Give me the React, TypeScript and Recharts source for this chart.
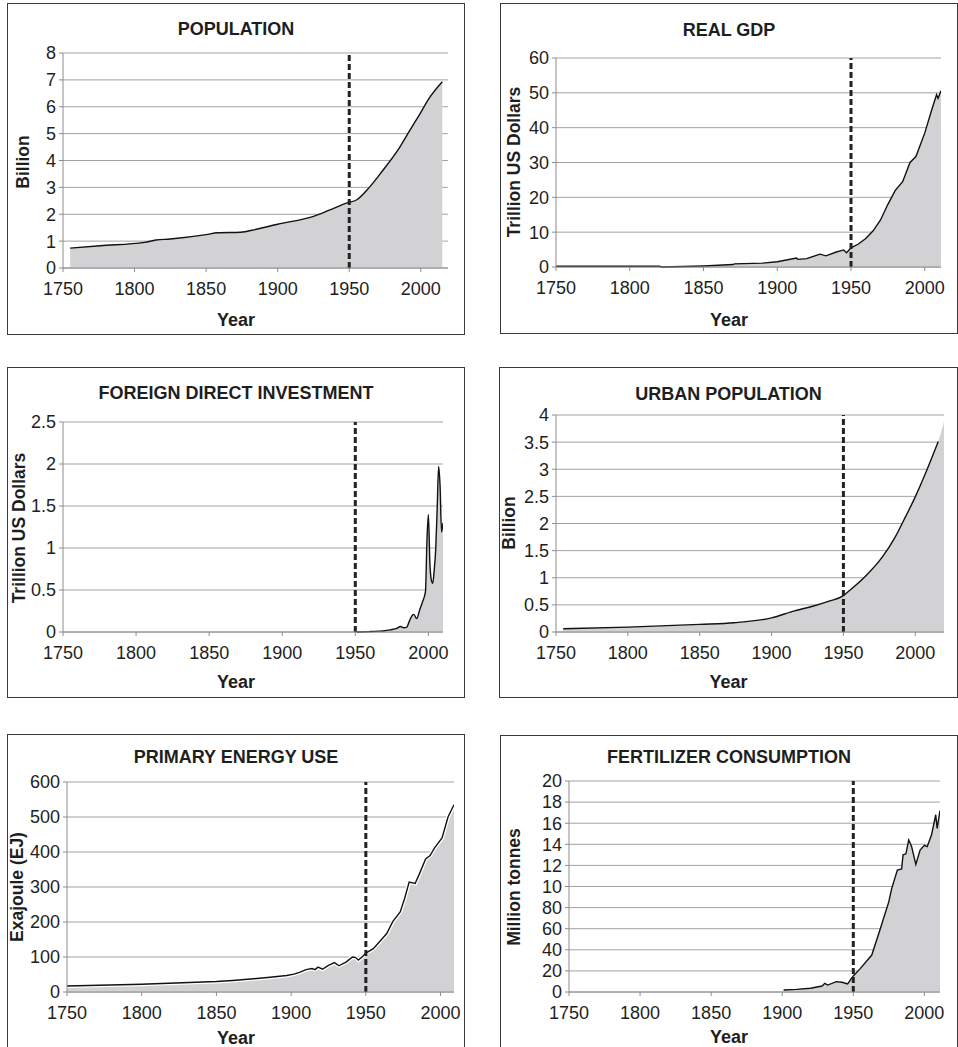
import React from "react";
import { ComposedChart, Area, Line, XAxis, YAxis, CartesianGrid, ReferenceLine } from "recharts";

// years on the x axis
const xTicks = [1750, 1800, 1850, 1900, 1950, 2000];

const popYears = [1755, 1776, 1807, 1815, 1825, 1850, 1858, 1874, 1885, 1900, 1925, 1936, 1949, 1955, 1964, 1973, 1985, 1992, 1999, 2006, 2015];
const popValues = [0.74, 0.83, 0.955, 1.04, 1.08, 1.24, 1.31, 1.33, 1.44, 1.63, 1.92, 2.15, 2.43, 2.53, 3.0, 3.6, 4.47, 5.09, 5.7, 6.33, 6.93];

const gdpYears = [1750, 1820, 1822, 1850, 1870, 1871, 1890, 1900, 1913, 1914, 1920, 1929, 1933, 1940, 1945, 1947, 1950, 1955, 1960, 1965, 1970, 1975, 1980, 1985, 1990, 1994, 2000, 2005, 2008, 2009, 2011];
const gdpValues = [0.2, 0.2, 0.0, 0.3, 0.7, 0.9, 1.1, 1.5, 2.6, 2.2, 2.4, 3.7, 3.2, 4.3, 4.9, 4.1, 5.5, 6.6, 8.2, 10.4, 13.5, 18.0, 22.0, 24.5, 30.0, 31.7, 38.5, 45.5, 49.5, 48.4, 50.6];

const fdiYears = [1951, 1960, 1966, 1970, 1975, 1978, 1981, 1983, 1985, 1987, 1989, 1990, 1992, 1994, 1996, 1998, 1999, 2000, 2001, 2002, 2003, 2004, 2005, 2006, 2007, 2008, 2009, 2010];
const fdiValues = [0.0, 0.005, 0.01, 0.015, 0.03, 0.04, 0.065, 0.05, 0.055, 0.13, 0.2, 0.21, 0.16, 0.26, 0.36, 0.48, 1.08, 1.4, 0.83, 0.62, 0.58, 0.74, 0.98, 1.46, 1.97, 1.74, 1.19, 1.3];

const urbanYears = [1755, 1800, 1850, 1874, 1900, 1916, 1928, 1940, 1950, 1954, 1965, 1977, 1986, 1992, 2000, 2008, 2016];
const urbanValues = [0.06, 0.09, 0.14, 0.17, 0.26, 0.39, 0.47, 0.57, 0.67, 0.76, 1.02, 1.38, 1.75, 2.06, 2.49, 2.98, 3.51];
const urbanFillEnd = { year: 2020, value: 3.88 };

const energyYears = [1750, 1800, 1850, 1861, 1875, 1886, 1897, 1902, 1906, 1910, 1914, 1916, 1918, 1921, 1925, 1929, 1932, 1937, 1941, 1943, 1945, 1948, 1950, 1955, 1959, 1964, 1968, 1973, 1976, 1979, 1983, 1986, 1990, 1993, 1996, 2001, 2005, 2009];
const energyValues = [17, 22, 30, 33, 38, 42, 47, 51, 57, 64, 67, 64, 71, 65, 76, 84, 75, 86, 100, 99, 91, 102, 111, 124, 143, 167, 201, 229, 268, 314, 310, 339, 380, 390, 412, 440, 500, 535];

const fertYears = [1901, 1910, 1920, 1928, 1930, 1932, 1938, 1942, 1946, 1950, 1955, 1963, 1969, 1975, 1977, 1981, 1984, 1985, 1987, 1989, 1991, 1994, 1997, 2000, 2002, 2005, 2006, 2008, 2009, 2011];
const fertValues = [1.9, 2.5, 3.5, 5.7, 8.2, 6.6, 9.8, 9.2, 7.6, 15.2, 22.4, 35, 60, 85.6, 98, 115.6, 116.6, 130, 131, 144, 138, 121, 134.6, 139, 137.8, 148.8, 155, 168, 155, 172];

const popTicks = [0, 1, 2, 3, 4, 5, 6, 7, 8];
const gdpTicks = [0, 10, 20, 30, 40, 50, 60];
const fdiTicks = [0, 0.5, 1, 1.5, 2, 2.5];
const urbanTicks = [0, 0.5, 1, 1.5, 2, 2.5, 3, 3.5, 4];
const energyTicks = [0, 100, 200, 300, 400, 500, 600];
const fertTicks = [0, 20, 40, 60, 80, 100, 120, 140, 160, 180, 200];

const FONT = "'Liberation Sans', Arial, sans-serif";
const TEXT = "#1e1e1e";

function rows(years: number[], values: number[], fillEnd?: { year: number; value: number }) {
  const r: any[] = years.map((y, i) => ({ year: y, area: values[i], line: values[i] }));
  if (fillEnd) r.push({ year: fillEnd.year, area: fillEnd.value, line: null });
  return r;
}

type Box = { x: number; y: number; r: number; b: number };

interface PanelProps {
  box: Box;
  plot: Box;
  title: string;
  titleY: number;
  yLabel: string;
  yLabelX: number;
  yLabelY: number;
  yearY: number;
  data: any[];
  xMax: number;
  yTicks: number[];
  fmt?: (v: number) => string;
  smooth?: boolean;
  halo?: boolean;
}

function Panel(p: PanelProps) {
  const { box, plot } = p;
  const w = box.r - box.x;
  const h = box.b - box.y;
  const cx = box.x + w / 2;
  const curve = p.smooth ? "monotone" : "linear";
  return (
    <>
      <div style={{ position: "absolute", left: box.x, top: box.y }}>
        <ComposedChart
          width={w}
          height={h}
          data={p.data}
          margin={{ top: plot.y - box.y, right: box.r - plot.r, bottom: 0, left: 0 }}
        >
          <CartesianGrid vertical={false} stroke="#a3a3a3" strokeWidth={1} />
          <XAxis
            type="number"
            dataKey="year"
            domain={[1750, p.xMax]}
            ticks={xTicks}
            allowDataOverflow
            height={box.b - plot.b}
            tickSize={4}
            tickMargin={10}
            stroke="#8c8c8c"
            tick={{ fill: TEXT, fontSize: 18, fontFamily: FONT }}
          />
          <YAxis
            type="number"
            domain={[0, p.yTicks[p.yTicks.length - 1]]}
            ticks={p.yTicks}
            interval={0}
            width={plot.x - box.x}
            tickSize={4}
            tickMargin={3}
            stroke="#8c8c8c"
            tickFormatter={p.fmt}
            tick={{ fill: TEXT, fontSize: 18, fontFamily: FONT }}
          />
          <Area
            dataKey="area"
            type={curve}
            stroke="none"
            fill="#d2d2d4"
            fillOpacity={1}
            isAnimationActive={false}
          />
          {p.halo && (
            <Line dataKey="line" type={curve} stroke="#ffffff" strokeWidth={4} dot={false} isAnimationActive={false} />
          )}
          <Line
            dataKey="line"
            type={curve}
            stroke="#111111"
            strokeWidth={1.4}
            dot={false}
            activeDot={false}
            isAnimationActive={false}
          />
          <ReferenceLine x={1950} stroke="#222222" strokeWidth={3} strokeDasharray="6 3" />
        </ComposedChart>
      </div>
      <div
        style={{
          position: "absolute",
          left: box.x,
          top: box.y,
          width: w,
          height: h,
          border: "1px solid #3a3a3a",
          boxSizing: "border-box",
          pointerEvents: "none",
        }}
      />
      <div
        style={{
          position: "absolute",
          left: cx,
          top: p.titleY,
          transform: "translate(-50%, -50%)",
          fontFamily: FONT,
          fontWeight: "bold",
          fontSize: 18,
          lineHeight: 1,
          color: TEXT,
          whiteSpace: "nowrap",
        }}
      >
        {p.title}
      </div>
      <div
        style={{
          position: "absolute",
          left: cx,
          top: p.yearY,
          transform: "translate(-50%, -50%)",
          fontFamily: FONT,
          fontWeight: "bold",
          fontSize: 18,
          lineHeight: 1,
          color: TEXT,
          whiteSpace: "nowrap",
        }}
      >
        Year
      </div>
      <div
        style={{
          position: "absolute",
          left: p.yLabelX,
          top: p.yLabelY,
          transform: "translate(-50%, -50%) rotate(-90deg)",
          fontFamily: FONT,
          fontWeight: "bold",
          fontSize: 17.5,
          lineHeight: 1,
          color: TEXT,
          whiteSpace: "nowrap",
        }}
      >
        {p.yLabel}
      </div>
    </>
  );
}

export default function App() {
  return (
    <div
      style={{
        position: "absolute",
        left: 0,
        top: 0,
        width: 958,
        height: 1047,
        overflow: "hidden",
        background: "#ffffff",
      }}
    >
      <Panel
        box={{ x: 7, y: 3, r: 465, b: 335 }}
        plot={{ x: 63, y: 53, r: 448, b: 268 }}
        title="POPULATION"
        titleY={29}
        yLabel="Billion"
        yLabelX={24}
        yLabelY={162}
        yearY={320}
        data={rows(popYears, popValues)}
        xMax={2019}
        yTicks={popTicks}
        smooth
      />
      <Panel
        box={{ x: 500, y: 3, r: 958, b: 334 }}
        plot={{ x: 556, y: 58, r: 941, b: 267 }}
        title="REAL GDP"
        titleY={30}
        yLabel="Trillion US Dollars"
        yLabelX={515}
        yLabelY={162}
        yearY={320}
        data={rows(gdpYears, gdpValues)}
        xMax={2011}
        yTicks={gdpTicks}
      />
      <Panel
        box={{ x: 7, y: 367, r: 465, b: 698 }}
        plot={{ x: 63, y: 422, r: 443, b: 632 }}
        title="FOREIGN DIRECT INVESTMENT"
        titleY={393}
        yLabel="Trillion US Dollars"
        yLabelX={20}
        yLabelY={528}
        yearY={682}
        data={rows(fdiYears, fdiValues)}
        xMax={2010}
        yTicks={fdiTicks}
        smooth
      />
      <Panel
        box={{ x: 499, y: 367, r: 958, b: 698 }}
        plot={{ x: 556, y: 415, r: 944, b: 632 }}
        title="URBAN POPULATION"
        titleY={394}
        yLabel="Billion"
        yLabelX={510}
        yLabelY={523}
        yearY={682}
        data={rows(urbanYears, urbanValues, urbanFillEnd)}
        xMax={2020}
        yTicks={urbanTicks}
        smooth
      />
      <Panel
        box={{ x: 7, y: 734, r: 465, b: 1070 }}
        plot={{ x: 67, y: 782, r: 454, b: 992 }}
        title="PRIMARY ENERGY USE"
        titleY={757}
        yLabel="Exajoule (EJ)"
        yLabelX={18}
        yLabelY={887}
        yearY={1038}
        data={rows(energyYears, energyValues)}
        xMax={2009}
        yTicks={energyTicks}
        halo
      />
      <Panel
        box={{ x: 500, y: 735, r: 958, b: 1070 }}
        plot={{ x: 569, y: 781, r: 940, b: 992 }}
        title="FERTILIZER CONSUMPTION"
        titleY={757}
        yLabel="Million tonnes"
        yLabelX={515}
        yLabelY={887}
        yearY={1037}
        data={rows(fertYears, fertValues)}
        xMax={2011}
        yTicks={fertTicks}
        fmt={(v: number) => String(v >= 100 ? v / 10 : v)}
      />
    </div>
  );
}
